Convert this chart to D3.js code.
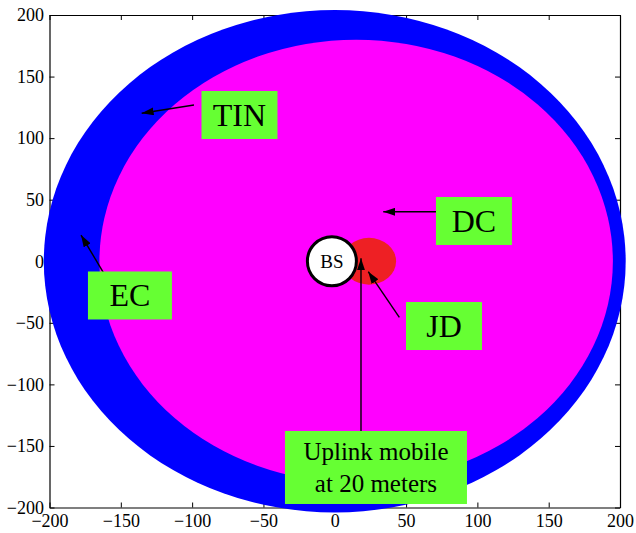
<!DOCTYPE html>
<html>
<head>
<meta charset="utf-8">
<script src="https://cdn.jsdelivr.net/npm/d3@7"></script>
<style>
    body { margin: 0; background: white; }
    svg { display: block; }
</style>
</head>
<body>
<svg id="chart" width="636" height="533"></svg>
<script>
// axis ticks
const xTicks = [-200, -150, -100, -50, 0, 50, 100, 150, 200]
const yTicks = [-200, -150, -100, -50, 0, 50, 100, 150, 200]

// coverage regions, drawn biggest first (EC ring, DC disc, JD disc)
const regionNames = ["EC", "DC", "JD"]
const regionCx = [0, 15, 24]
const regionCy = [0, 0, 0]
const regionR = [204, 180, 19]

// base station
const bsName = "BS"
const bsX = -2
const bsY = 0

// annotation boxes (centre in data units) and their arrows
const labelTexts = [["TIN"], ["DC"], ["EC"], ["JD"], ["Uplink mobile", "at 20 meters"]]
const labelX = [-66.8, 97.6, -143.6, 76.6, 28.9]
const labelY = [118.8, 32.7, -27.8, -52.6, -167.5]
const arrowFromX = [-98.7, 71.0, -162.3, 45.3, 18.4]
const arrowFromY = [126.9, 40.2, -9.0, -45.5, -137.9]
const arrowToX = [-135.4, 34.0, -177.9, 23.5, 18.4]
const arrowToY = [120.2, 40.2, 21.3, -8.5, 2.4]

// styling
const regionColors = ["#0000ff", "#ff00ff", "#ee2024"]
const boxW = [76, 76, 84, 76, 182]
const boxH = [48, 48, 48, 48, 73]
const boxFont = [32, 32, 32, 32, 25]
const boxColor = "#66ff33"
const serif = "'Liberation Serif', 'Times New Roman', serif"

function drawChart() {
    let svg = d3.select("#chart")

    let x = d3.scaleLinear().domain([-200, 200]).range([49.5, 620])
    let y = d3.scaleLinear().domain([-200, 200]).range([507.5, 15])

    // axes, mirrored on all four sides with inward ticks
    svg.append("g")
        .attr("transform", "translate(0," + y(-200) + ")")
        .call(d3.axisBottom(x).tickValues(xTicks).tickSizeInner(-5).tickSizeOuter(0).tickPadding(7))
    svg.append("g")
        .attr("transform", "translate(0," + y(200) + ")")
        .call(d3.axisTop(x).tickValues(xTicks).tickSizeInner(-5).tickSizeOuter(0).tickFormat(""))
    svg.append("g")
        .attr("transform", "translate(" + x(-200) + ",0)")
        .call(d3.axisLeft(y).tickValues(yTicks).tickSizeInner(-5).tickSizeOuter(0).tickPadding(5.5))
    svg.append("g")
        .attr("transform", "translate(" + x(200) + ",0)")
        .call(d3.axisRight(y).tickValues(yTicks).tickSizeInner(-5).tickSizeOuter(0).tickFormat(""))
    svg.selectAll(".domain").attr("stroke", "black").attr("stroke-width", 1.2)
    svg.selectAll(".tick line").attr("stroke", "black")
    svg.selectAll(".tick text")
        .style("font-family", serif)
        .style("font-size", "18px")
        .style("fill", "black")

    // regions
    svg.selectAll(".region")
        .data(regionNames)
        .enter()
        .append("ellipse")
        .attr("class", "region")
        .attr("cx", (d, i) => x(regionCx[i]))
        .attr("cy", (d, i) => y(regionCy[i]))
        .attr("rx", (d, i) => x(regionR[i]) - x(0))
        .attr("ry", (d, i) => y(0) - y(regionR[i]))
        .attr("fill", (d, i) => regionColors[i])

    // base station
    svg.append("circle")
        .attr("cx", x(bsX))
        .attr("cy", y(bsY))
        .attr("r", 24.5)
        .attr("fill", "white")
        .attr("stroke", "black")
        .attr("stroke-width", 3)
    svg.append("text")
        .attr("x", x(bsX))
        .attr("y", y(bsY) + 6.5)
        .attr("text-anchor", "middle")
        .style("font-family", serif)
        .style("font-size", "19px")
        .text(bsName)

    // arrow head
    svg.append("defs").append("marker")
        .attr("id", "head")
        .attr("markerUnits", "userSpaceOnUse")
        .attr("viewBox", "0 0 12 8")
        .attr("refX", 12)
        .attr("refY", 4)
        .attr("markerWidth", 12)
        .attr("markerHeight", 8)
        .attr("orient", "auto")
        .append("path")
        .attr("d", "M0,0L12,4L0,8Z")
        .attr("fill", "black")

    svg.selectAll(".arrow")
        .data(labelTexts)
        .enter()
        .append("line")
        .attr("class", "arrow")
        .attr("x1", (d, i) => x(arrowFromX[i]))
        .attr("y1", (d, i) => y(arrowFromY[i]))
        .attr("x2", (d, i) => x(arrowToX[i]))
        .attr("y2", (d, i) => y(arrowToY[i]))
        .attr("stroke", "black")
        .attr("stroke-width", 1.4)
        .attr("marker-end", "url(#head)")

    // label boxes
    let boxes = svg.selectAll(".label")
        .data(labelTexts)
        .enter()
        .append("g")
        .attr("class", "label")
        .attr("transform", (d, i) => "translate(" + x(labelX[i]) + "," + y(labelY[i]) + ")")

    boxes.append("rect")
        .attr("x", (d, i) => -boxW[i] / 2)
        .attr("y", (d, i) => -boxH[i] / 2)
        .attr("width", (d, i) => boxW[i])
        .attr("height", (d, i) => boxH[i])
        .attr("fill", boxColor)

    boxes.each(function (d, i) {
        let g = d3.select(this)
        let fs = boxFont[i]
        let lineH = fs * 1.3
        let top = -(d.length - 1) * lineH / 2 + fs * 0.34
        d.forEach((line, j) => {
            g.append("text")
                .attr("x", 0)
                .attr("y", top + j * lineH)
                .attr("text-anchor", "middle")
                .style("font-family", serif)
                .style("font-size", fs + "px")
                .text(line)
        })
    })
}

drawChart()
</script>
</body>
</html>
